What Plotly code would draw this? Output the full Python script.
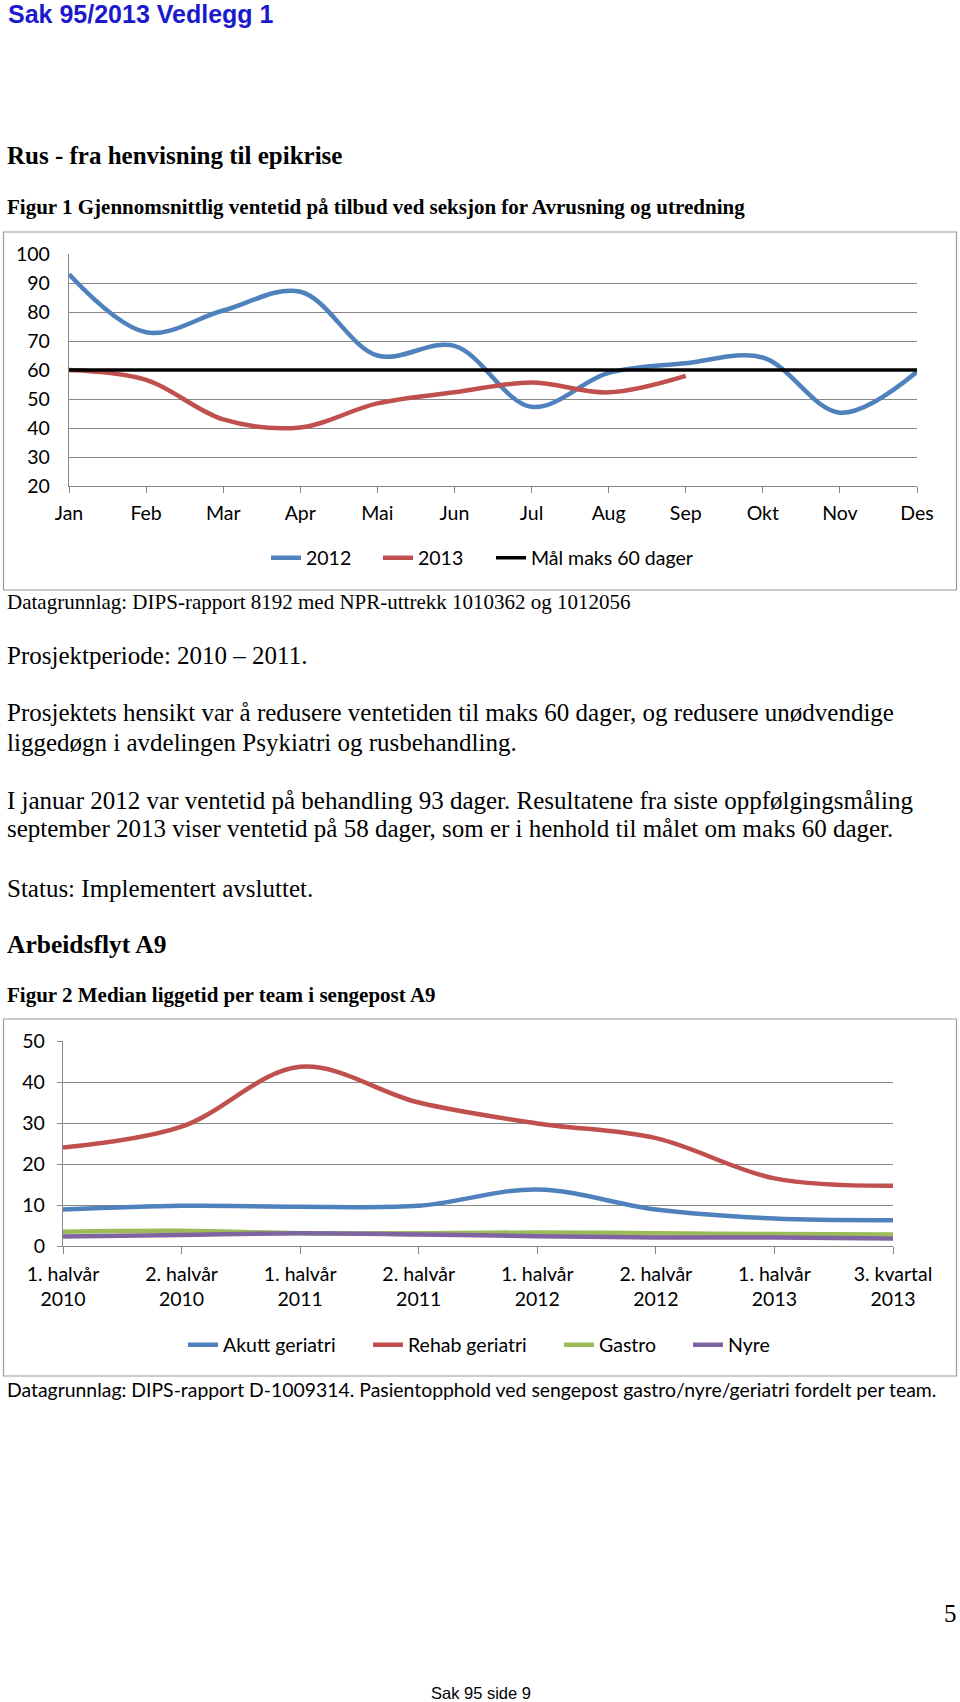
import plotly.graph_objects as go

W, H = 960, 1702

# ---------------- data: figure 1 ----------------
months = ["Jan", "Feb", "Mar", "Apr", "Mai", "Jun", "Jul", "Aug", "Sep", "Okt", "Nov", "Des"]
wait_2012 = [93, 73, 80.5, 87, 65, 68.3, 47.3, 59, 62.3, 64.3, 45.3, 59.4]
wait_2013 = [60, 56.6, 43, 40.2, 48.5, 52.3, 55.7, 52.3, 58]
target = [60] * 12

# ---------------- data: figure 2 ----------------
periods = ["1. halvår<br>2010", "2. halvår<br>2010", "1. halvår<br>2011", "2. halvår<br>2011",
           "1. halvår<br>2012", "2. halvår<br>2012", "1. halvår<br>2013", "3. kvartal<br>2013"]
akutt = [8.9, 9.8, 9.6, 9.8, 13.8, 8.9, 6.7, 6.3]
rehab = [24.0, 29.1, 43.7, 35.0, 29.9, 26.3, 16.5, 14.7]
gastro = [3.5, 3.7, 3.1, 3.1, 3.3, 3.1, 2.9, 2.8]
nyre = [2.3, 2.7, 3.1, 2.8, 2.4, 2.1, 2.1, 1.8]

BLUE, RED, GREEN, PURPLE = "#4F81BD", "#C0504D", "#9BBB59", "#8064A2"
GRID = "#878787"
CAL = "Lato, Calibri, sans-serif"
SERIF = "Liberation Serif, Times New Roman, serif"
SANS = "Liberation Sans, Arial, sans-serif"
CH = 19.5


def px(x):
    return x / W


def py(y):
    return 1 - y / H


fig = go.Figure()

# figure 1 traces (each in its own one-entry legend so entries can be spaced like the original)
fig.add_trace(go.Scatter(x=months, y=wait_2012, name="2012", mode="lines",
                         line=dict(color=BLUE, width=4.5, shape="spline", smoothing=1.0),
                         xaxis="x", yaxis="y", legend="legend"))
fig.add_trace(go.Scatter(x=months[:len(wait_2013)], y=wait_2013, name="2013", mode="lines",
                         line=dict(color=RED, width=4.5, shape="spline", smoothing=1.0),
                         xaxis="x", yaxis="y", legend="legend2"))
fig.add_trace(go.Scatter(x=months, y=target, name="Mål maks 60 dager", mode="lines",
                         line=dict(color="black", width=3.5),
                         xaxis="x", yaxis="y", legend="legend3"))

# figure 2 traces
fig2_series = [("Akutt geriatri", akutt, BLUE, "legend4"), ("Rehab geriatri", rehab, RED, "legend5"),
               ("Gastro", gastro, GREEN, "legend6"), ("Nyre", nyre, PURPLE, "legend7")]
for name, vals, col, lg in fig2_series:
    fig.add_trace(go.Scatter(x=periods, y=vals, name=name, mode="lines",
                             line=dict(color=col, width=4.5, shape="spline", smoothing=1.0),
                             xaxis="x2", yaxis="y2", legend=lg))

axis_common = dict(tickfont=dict(family=CAL, size=CH, color="black"), linecolor=GRID,
                   linewidth=1.3, zeroline=False, fixedrange=True)


def leg(x, y):
    return dict(orientation="h", x=px(x), y=py(y), xanchor="left", yanchor="middle",
                font=dict(family=CAL, size=CH, color="black"), bgcolor="rgba(0,0,0,0)",
                borderwidth=0)


fig.update_layout(
    width=W, height=H, margin=dict(l=0, r=0, t=0, b=0, pad=0, autoexpand=False),
    paper_bgcolor="white", plot_bgcolor="white",
    xaxis=dict(domain=[px(69), px(917)], anchor="y", type="category", range=[0, 11],
               showgrid=False, showline=True, ticks="outside", ticklen=6, tickcolor=GRID,
               tickwidth=1.3, ticklabelstandoff=3, **axis_common),
    yaxis=dict(domain=[py(486), py(254)], anchor="x", range=[20, 100], dtick=10,
               showgrid=True, gridcolor=GRID, gridwidth=1.3, showline=True,
               ticks="", ticklabelstandoff=14, **axis_common),
    xaxis2=dict(domain=[px(63), px(893)], anchor="y2", type="category", range=[0, 7],
                showgrid=False, showline=True, ticks="outside", ticklen=7, tickcolor=GRID,
                tickwidth=1.3, ticklabelstandoff=3, **axis_common),
    yaxis2=dict(domain=[py(1246), py(1041)], anchor="x2", range=[0, 50], dtick=10,
                showgrid=True, gridcolor=GRID, gridwidth=1.3, showline=True,
                ticks="outside", ticklen=5, tickcolor=GRID, tickwidth=1.3,
                ticklabelstandoff=8, **axis_common),
    legend=leg(266, 558), legend2=leg(378, 558), legend3=leg(491, 558),
    legend4=leg(183, 1345), legend5=leg(368, 1345), legend6=leg(559, 1345), legend7=leg(688, 1345),
    showlegend=True,
)

# chart borders
for (y0, y1) in [(232, 590), (1019, 1376)]:
    fig.add_shape(type="rect", xref="paper", yref="paper", x0=px(3.5), x1=px(956.5),
                  y0=py(y1), y1=py(y0), line=dict(color="#9A9A9A", width=1.2),
                  fillcolor="rgba(0,0,0,0)", layer="below")

texts = [
    ("Sak 95/2013 Vedlegg 1", 6, 14, SANS, 25, "#1A1ACC", True),
    ("Rus - fra henvisning til epikrise", 5, 156, SERIF, 25, "black", True),
    ("Figur 1 Gjennomsnittlig ventetid på tilbud ved seksjon for Avrusning og utredning", 5, 207, SERIF, 21, "black", True),
    ("Datagrunnlag: DIPS-rapport 8192 med NPR-uttrekk 1010362 og 1012056", 5, 602, SERIF, 21, "black", False),
    ("Prosjektperiode: 2010 – 2011.", 5, 655, SERIF, 25, "black", False),
    ("Prosjektets hensikt var å redusere ventetiden til maks 60 dager, og redusere unødvendige", 5, 713, SERIF, 25, "black", False),
    ("liggedøgn i avdelingen Psykiatri og rusbehandling.", 5, 742, SERIF, 25, "black", False),
    ("I januar 2012 var ventetid på behandling 93 dager. Resultatene fra siste oppfølgingsmåling", 5, 800, SERIF, 25, "black", False),
    ("september 2013 viser ventetid på 58 dager, som er i henhold til målet om maks 60 dager.", 5, 829, SERIF, 25, "black", False),
    ("Status: Implementert avsluttet.", 5, 888, SERIF, 25, "black", False),
    ("Arbeidsflyt A9", 5, 945, SERIF, 25.5, "black", True),
    ("Figur 2 Median liggetid per team i sengepost A9", 5, 995, SERIF, 21, "black", True),
    ("Datagrunnlag: DIPS-rapport D-1009314. Pasientopphold ved sengepost gastro/nyre/geriatri fordelt per team.", 5, 1389, CAL, 19.4, "black", False),
]
for t, x, y, fam, size, col, bold in texts:
    fig.add_annotation(text=f"<b>{t}</b>" if bold else t, x=px(x), y=py(y), xref="paper", yref="paper",
                       xanchor="left", yanchor="middle", showarrow=False,
                       font=dict(family=fam, size=size, color=col))

fig.add_annotation(text="5", x=px(950), y=py(1613), xref="paper", yref="paper", xanchor="center",
                   yanchor="middle", showarrow=False, font=dict(family=SERIF, size=25, color="black"))
fig.add_annotation(text="Sak 95 side 9", x=px(481), y=py(1693), xref="paper", yref="paper",
                   xanchor="center", yanchor="middle", showarrow=False,
                   font=dict(family=SANS, size=16.5, color="black"))

fig.write_html("out.html", config={"displayModeBar": False},
               post_script="document.body.style.margin='0';document.body.style.overflow='hidden';")
